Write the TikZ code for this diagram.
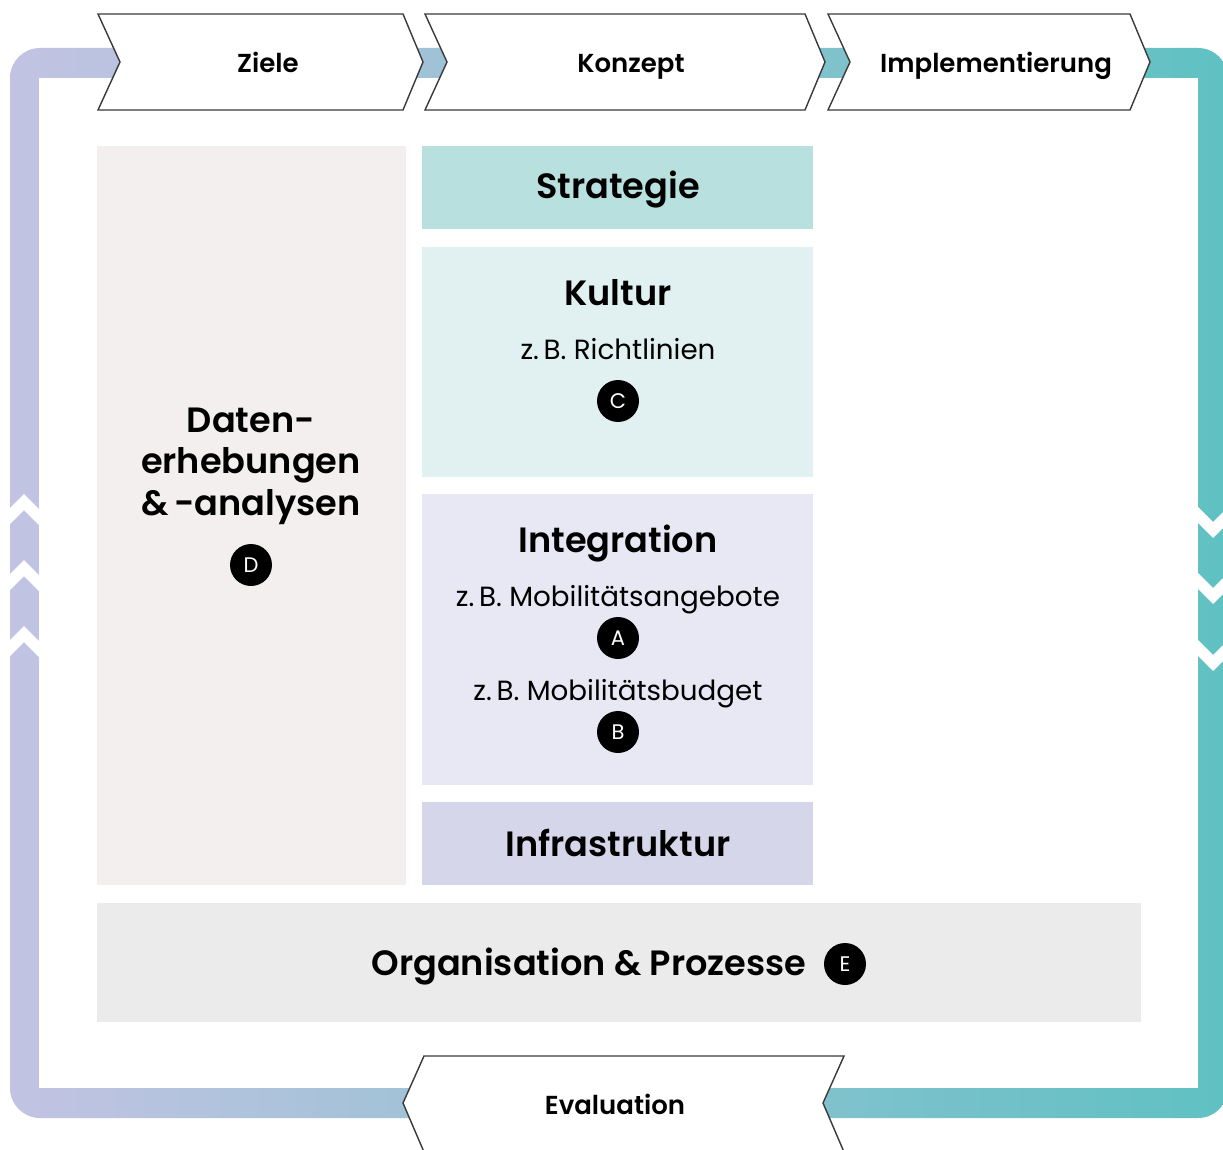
\documentclass[tikz,border=0pt]{standalone}
\usepackage{fontspec}
\setmainfont{Poppins}
\newfontfamily\semibold{Poppins SemiBold}
\usetikzlibrary{positioning}

\definecolor{lavender}{HTML}{C2C3E2}
\definecolor{tealband}{HTML}{5FC1C2}
\definecolor{chevgray}{HTML}{3A3A3A}
\definecolor{datafill}{HTML}{F3EFEE}
\definecolor{stratfill}{HTML}{B7E0DE}
\definecolor{kultfill}{HTML}{E1F1F1}
\definecolor{integfill}{HTML}{E8E8F5}
\definecolor{infrafill}{HTML}{D6D6EB}
\definecolor{orgfill}{HTML}{EBEBEB}

\begin{document}
\begin{tikzpicture}[
    x=0.02cm, y=-0.02cm, % work in pixels of the original
    chev/.style={fill=white, draw=chevgray, line width=0.8pt}, % phase arrows
    notch/.style={fill=white}, % white cut-outs in the frame
    phase/.style={anchor=base, font=\fontsize{14.8}{18}\semibold},
    title/.style={anchor=base, font=\fontsize{20}{23.6}\semibold, align=center},
    example/.style={anchor=base, font=\fontsize{15.8}{18}\selectfont},
    badge/.style={circle, fill=black, text=white, minimum size=0.84cm,
        inner sep=0pt, font=\fontsize{12}{12}\selectfont}
]

    \path[use as bounding box, clip] (0,0) rectangle (1223,1149);

    % Frame with colour gradient
    \shade[left color=lavender, right color=tealband, rounded corners=0.6cm]
        (10,48) rectangle (1228,1118);
    \fill[white] (39,78) rectangle (1198,1088);

    % Upward notches on the left side
    \foreach \a in {494,560,626}
        \fill[notch] (8,\a+16) -- (24,\a) -- (40,\a+16) -- (40,\a+32) -- (24,\a+16) -- (8,\a+32) -- cycle;
    % Downward notches on the right side
    \foreach \b in {507,573,640}
        \fill[notch] (1197,\b-1) -- (1213,\b+15) -- (1229,\b-1) -- (1229,\b+15) -- (1213,\b+31) -- (1197,\b+15) -- cycle;

    % Phase arrows
    \draw[chev] (98,14) -- (403,14) -- (423,62) -- (403,110) -- (98,110) -- (120,62) -- cycle;
    \draw[chev] (425,14) -- (805,14) -- (825,62) -- (805,110) -- (425,110) -- (447,62) -- cycle;
    \draw[chev] (828,14) -- (1130,14) -- (1150,62) -- (1130,110) -- (828,110) -- (850,62) -- cycle;
    \draw[chev] (844,1152) -- (823,1103) -- (844,1056) -- (424,1056) -- (403,1103) -- (424,1152) -- cycle;

    \node[phase] (ziele) at (268,72) {Ziele};
    \node[phase] (konzept) at (631,72) {Konzept};
    \node[phase] (impl) at (996,72) {Implementierung};
    \node[phase] (eval) at (615,1114) {Evaluation};

    % Boxes
    \fill[datafill] (97,146) rectangle (406,885);
    \fill[stratfill] (422,146) rectangle (813,229);
    \fill[kultfill] (422,247) rectangle (813,477);
    \fill[integfill] (422,494) rectangle (813,785);
    \fill[infrafill] (422,802) rectangle (813,885);
    \fill[orgfill] (97,903) rectangle (1141,1022);

    % Daten
    \node[title, anchor=center] (daten) at (251,466) {Daten-\\erhebungen\\\&\,-analysen};
    \node[badge] (d) at (251,565) {D};

    % Strategie
    \node[title] (strategie) at (618,198) {Strategie};

    % Kultur
    \node[title] (kultur) at (618,305) {Kultur};
    \node[example] (richtlinien) at (618,359) {z.\,B. Richtlinien};
    \node[badge] (c) at (618,401) {C};

    % Integration
    \node[title] (integration) at (618,552) {Integration};
    \node[example] (angebote) at (618,606) {z.\,B. Mobilitätsangebote};
    \node[badge] (a) at (618,638) {A};
    \node[example] (budget) at (618,700) {z.\,B. Mobilitätsbudget};
    \node[badge] (b) at (618,732) {B};

    % Infrastruktur
    \node[title] (infra) at (618,856) {Infrastruktur};

    % Organisation
    \node[title] (org) at (589,975) {Organisation \& Prozesse};
    \node[badge] (e) at (845,964) {E};

\end{tikzpicture}
\end{document}
